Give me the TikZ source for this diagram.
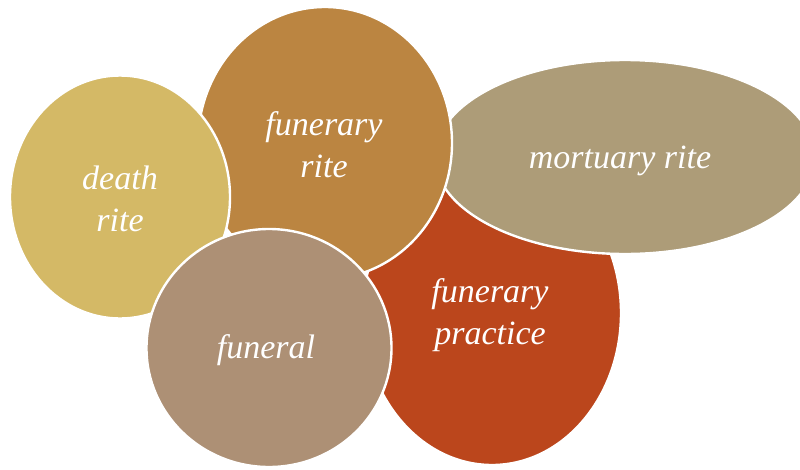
\documentclass[tikz,border=0pt]{standalone}
\usepackage{fontspec}
\setmainfont{Liberation Serif}
\usetikzlibrary{shapes.geometric}
\definecolor{cDeath}{HTML}{D4B966}
\definecolor{cRite}{HTML}{BB8541}
\definecolor{cMort}{HTML}{AD9C78}
\definecolor{cPract}{HTML}{BB461C}
\definecolor{cFuneral}{HTML}{AD9075}
\begin{document}
\begin{tikzpicture}[x=1pt,y=-1pt,
  blobtext/.style={text=white, align=center, inner sep=0pt, font=\fontsize{34}{42}\selectfont\itshape},
  blob/.style={ellipse, draw=white, line width=2.4pt, inner sep=0pt, outer sep=0pt, blobtext}]
\useasboundingbox (0,0) rectangle (800,469);
\clip (0,0) rectangle (800,469);
\node[blob, fill=cPract, minimum width=258pt, minimum height=304pt] (practice) at (492,313) {};
\node[blobtext] (practiceText) at (490,315) {funerary\\practice};
\node[blob, fill=cMort, minimum width=380pt, minimum height=194pt] (mortuary) at (625,157) {};
\node[blobtext] (mortuaryText) at (620,161) {mortuary rite};
\node[blob, fill=cRite, minimum width=254pt, minimum height=272pt] (frite) at (325,143) {};
\node[blobtext] (friteText) at (324,145) {funerary\\rite};
\node[blob, fill=cDeath, minimum width=220pt, minimum height=243pt] (death) at (120,197) {};
\node[blobtext] (deathText) at (120,199) {death\\rite};
\node[blob, fill=cFuneral, minimum width=245pt, minimum height=238pt] (funeral) at (269,348) {};
\node[blobtext] (funeralText) at (266,350) {funeral};
\end{tikzpicture}
\end{document}
